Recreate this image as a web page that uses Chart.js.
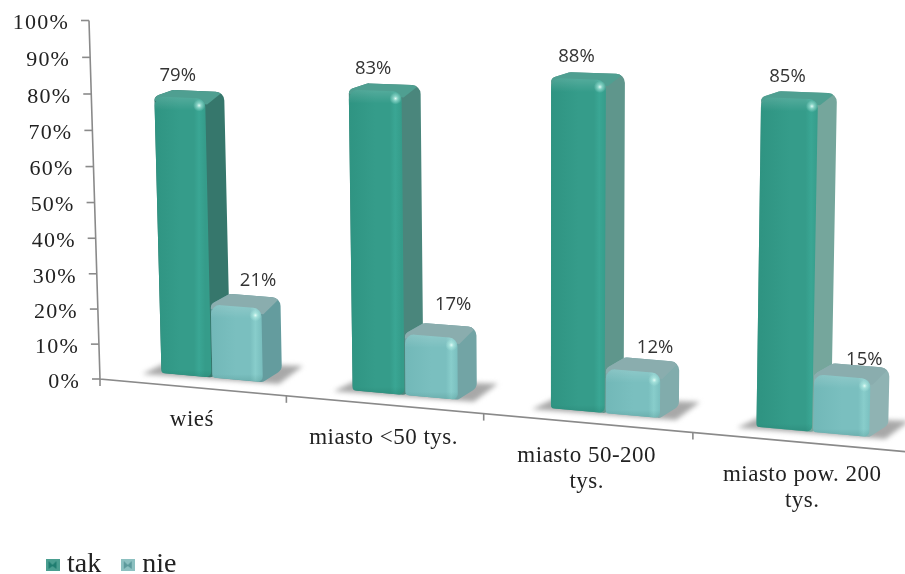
<!DOCTYPE html>
<html lang="pl">
<head>
<meta charset="utf-8">
<title>tak / nie</title>
<script src="https://cdn.jsdelivr.net/npm/chart.js@4"></script>
<style>
  html, body { margin: 0; padding: 0; background: #fff; }
  #wrap { width: 905px; height: 574px; }
</style>
</head>
<body>
<div id="wrap"><canvas id="wykres" width="905" height="574"></canvas></div>
<script>
const kategorie = ["wieś", "miasto <50 tys.", ["miasto 50-200", "tys."], ["miasto pow. 200", "tys."]];
const wartosciTak = [79, 83, 88, 85];
const wartosciNie = [21, 17, 12, 15];

const SERIF = '"Liberation Serif", serif';

// planes of the perspective view: corners top-left, top-right, bottom-right, bottom-left
const planSlupkow = [[108, 20], [929, 42], [919, 441.5], [118, 369]];
const planOsi = [[89, 20.5], [932, 40], [915, 452.5], [100, 379]];

// how far each "nie" value label sits above its bar
const uniesienieNie = [26, 31, 23, 17];

const kolory = {
  tak: { lewy: "#2f9482", srodek: "#359c8a", jasny: "#3aa694", gora: "#4f9f91", bok: ["#35776c", "#78a89f"] },
  nie: { lewy: "#72b8b8", srodek: "#7abfbf", jasny: "#88cdcb", gora: "#8aadae", bok: ["#5f9a9c", "#8fb3b3"] },
};

// square -> quad homography
function utworzRzut(q) {
  const [[x0, y0], [x1, y1], [x2, y2], [x3, y3]] = q;
  const dx1 = x1 - x2, dx2 = x3 - x2, sx = x0 - x1 + x2 - x3;
  const dy1 = y1 - y2, dy2 = y3 - y2, sy = y0 - y1 + y2 - y3;
  const det = dx1 * dy2 - dx2 * dy1;
  const g = (sx * dy2 - dx2 * sy) / det;
  const h = (dx1 * sy - sx * dy1) / det;
  const a = x1 - x0 + g * x1, b = x3 - x0 + h * x3;
  const d = y1 - y0 + g * y1, e = y3 - y0 + h * y3;
  return (u, v) => {
    const w = g * u + h * v + 1;
    return [(a * u + b * v + x0) / w, (d * u + e * v + y0) / w];
  };
}

function sciezka(ctx, pts, r) {
  const n = pts.length;
  const promien = (i) => (Array.isArray(r) ? r[i] : r);
  const p0 = pts[0], pn = pts[n - 1];
  ctx.beginPath();
  ctx.moveTo((p0[0] + pn[0]) / 2, (p0[1] + pn[1]) / 2);
  for (let i = 0; i < n; i++) {
    const p = pts[i], q = pts[(i + 1) % n];
    ctx.arcTo(p[0], p[1], q[0], q[1], promien(i));
  }
  ctx.closePath();
}

function mieszaj(k1, k2, t) {
  const rgb = (k) => [1, 3, 5].map((i) => parseInt(k.slice(i, i + 2), 16));
  const a = rgb(k1), b = rgb(k2);
  return "rgb(" + a.map((c, i) => Math.round(c + (b[i] - c) * t)).join(",") + ")";
}

function rysujSlupek(ctx, f, styl, wartosc) {
  const [tl, tr, br, bl] = f;
  const dx = 19, dyDol = -12;
  // tall bars are near eye level, so their top face looks thinner
  const dyGora = -(5 + (1 - wartosc / 100) * 7);
  const tlb = [tl[0] + dx, tl[1] + dyGora], trb = [tr[0] + dx, tr[1] + dyGora], brb = [br[0] + dx, br[1] + dyDol];
  const t = Math.min(1, Math.max(0, (tr[0] - 200) / 650));

  // side and top
  ctx.save();
  sciezka(ctx, [tl, tlb, trb, brb, br, bl], [6, 7, 9, 8, 6, 5]);
  ctx.fillStyle = mieszaj(styl.bok[0], styl.bok[1], t);
  ctx.fill();
  ctx.clip();
  ctx.beginPath();
  ctx.moveTo(tl[0] - 4, tl[1] + 4);
  ctx.lineTo(tlb[0] - 4, tlb[1] - 4);
  ctx.lineTo(trb[0] + 6, trb[1] - 6);
  ctx.lineTo(tr[0] + 2, tr[1] + 6);
  ctx.closePath();
  ctx.fillStyle = styl.gora;
  ctx.fill();
  ctx.restore();

  // front
  ctx.save();
  sciezka(ctx, f, [9, 9, 5, 3]);
  ctx.clip();
  const gr = ctx.createLinearGradient(tl[0], 0, tr[0], 0);
  gr.addColorStop(0, styl.lewy);
  gr.addColorStop(0.5, styl.srodek);
  gr.addColorStop(0.78, styl.srodek);
  gr.addColorStop(0.88, styl.jasny);
  gr.addColorStop(1, styl.srodek);
  ctx.fillStyle = gr;
  ctx.fillRect(Math.min(tl[0], bl[0]) - 2, Math.min(tl[1], tr[1]) - 2, Math.max(tr[0], br[0]) - Math.min(tl[0], bl[0]) + 4, Math.max(bl[1], br[1]) - Math.min(tl[1], tr[1]) + 4);
  const gg = ctx.createLinearGradient(0, tl[1], 0, tl[1] + 14);
  gg.addColorStop(0, "rgba(255,255,255,0.16)");
  gg.addColorStop(1, "rgba(255,255,255,0)");
  ctx.fillStyle = gg;
  ctx.fillRect(tl[0] - 8, tl[1] - 8, tr[0] - tl[0] + 16, 24);
  const gd = ctx.createLinearGradient(0, br[1] - 8, 0, br[1] + 2);
  gd.addColorStop(0, "rgba(0,60,50,0)");
  gd.addColorStop(1, "rgba(0,60,50,0.16)");
  ctx.fillStyle = gd;
  ctx.fillRect(bl[0] - 4, bl[1] - 12, br[0] - bl[0] + 8, 24);
  ctx.restore();

  // glint at the upper right corner
  const bx = tr[0] - 6, by = tr[1] + 7;
  const rg = ctx.createRadialGradient(bx, by, 0, bx, by, 6);
  rg.addColorStop(0, "rgba(235,255,250,0.95)");
  rg.addColorStop(0.4, "rgba(190,245,235,0.5)");
  rg.addColorStop(1, "rgba(190,245,235,0)");
  ctx.fillStyle = rg;
  ctx.fillRect(bx - 7, by - 7, 14, 14);
}

const perspektywa = {
  id: "perspektywa",
  beforeDatasetDraw() {
    return false; // the bars are painted together in afterDatasetsDraw
  },
  afterDatasetsDraw(chart) {
    const { ctx, chartArea: a, scales } = chart;
    // k evens out the category spacing along the floor
    const rzutPx = (rzut, k) => (x, y) => {
      const u = (x - a.left) / (a.right - a.left);
      return rzut(u + k * u * (1 - u), (y - a.top) / (a.bottom - a.top));
    };
    const front = rzutPx(utworzRzut(planSlupkow), 0.065);
    const os = rzutPx(utworzRzut(planOsi), 0.025);
    const yS = scales.y, xS = scales.x;

    ctx.save();

    // y axis
    const dol = yS.getPixelForValue(0);
    const gora = yS.getPixelForValue(100);
    ctx.strokeStyle = "#8a8a8a";
    ctx.lineWidth = 1.6;
    ctx.beginPath();
    ctx.moveTo(...os(a.left, gora));
    ctx.lineTo(...os(a.left, dol));
    ctx.lineTo(...os(a.right, dol));
    ctx.stroke();
    ctx.fillStyle = "#222";
    ctx.textAlign = "right";
    ctx.textBaseline = "middle";
    ctx.font = "22px " + SERIF;
    ctx.letterSpacing = "1.2px";
    yS.ticks.forEach((tick) => {
      const [px, py] = os(a.left, yS.getPixelForValue(tick.value));
      ctx.beginPath();
      ctx.moveTo(px - 8, py);
      ctx.lineTo(px, py);
      ctx.stroke();
      ctx.fillText(tick.label, px - 20, py + 3);
    });

    // x axis ticks and category names
    const szer = (a.right - a.left) / kategorie.length;
    ctx.textAlign = "center";
    ctx.font = "23px " + SERIF;
    ctx.letterSpacing = "0.5px";
    for (let i = 0; i <= kategorie.length; i++) {
      const [px, py] = os(a.left + i * szer, dol);
      ctx.beginPath();
      ctx.moveTo(px, py);
      ctx.lineTo(px, py + 7);
      ctx.stroke();
    }
    kategorie.forEach((nazwa, i) => {
      const [px, py] = os(xS.getPixelForValue(i), dol);
      [].concat(nazwa).forEach((linia, j) => ctx.fillText(linia, px, py + 33 + j * 26));
    });
    ctx.letterSpacing = "0px";

    const metaTak = chart.getDatasetMeta(0), metaNie = chart.getDatasetMeta(1);
    const naroza = (el) => {
      const x0 = el.x - el.width / 2, x1 = el.x + el.width / 2;
      return [front(x0, el.y), front(x1, el.y), front(x1, el.base), front(x0, el.base)];
    };

    kategorie.forEach((_, i) => {
      const fT = naroza(metaTak.data[i]), fN = naroza(metaNie.data[i]);

      // soft floor shadow under the pair of bars
      const lewy = fT[3], prawy = fN[2];
      ctx.save();
      ctx.filter = "blur(2.5px)";
      ctx.fillStyle = "#a8a8a8";
      ctx.beginPath();
      ctx.moveTo(lewy[0] - 19, lewy[1] + 1);
      ctx.lineTo(lewy[0] + 6, lewy[1] - 11);
      ctx.lineTo(prawy[0] + 40, prawy[1] - 16);
      ctx.lineTo(prawy[0] + 16, prawy[1] + 2);
      ctx.closePath();
      ctx.fill();
      ctx.restore();

      rysujSlupek(ctx, fT, kolory.tak, wartosciTak[i]);
      rysujSlupek(ctx, fN, kolory.nie, wartosciNie[i]);

      // value labels
      ctx.font = '18.5px "Open Sans", sans-serif';
      ctx.fillStyle = "#333";
      ctx.textAlign = "center";
      ctx.textBaseline = "middle";
      const sT = [(fT[0][0] + fT[1][0]) / 2, (fT[0][1] + fT[1][1]) / 2];
      const sN = [(fN[0][0] + fN[1][0]) / 2, (fN[0][1] + fN[1][1]) / 2];
      ctx.fillText(wartosciTak[i] + "%", sT[0] - 2, sT[1] - 22);
      ctx.fillText(wartosciNie[i] + "%", sN[0] + 22, sN[1] - uniesienieNie[i]);
    });
    ctx.restore();
  },
};

function ikonaLegendy(kolor, ciemny) {
  const c = document.createElement("canvas");
  c.width = 14;
  c.height = 12;
  const g = c.getContext("2d");
  g.fillStyle = kolor;
  g.fillRect(0, 0, 14, 12);
  g.fillStyle = ciemny;
  g.beginPath();
  g.moveTo(3, 2);
  g.lineTo(7, 6);
  g.lineTo(11, 2);
  g.lineTo(11, 10);
  g.lineTo(7, 7);
  g.lineTo(3, 10);
  g.closePath();
  g.fill();
  return c;
}

const ikony = [ikonaLegendy("#4a9e90", "#1f7d70"), ikonaLegendy("#8cc0c0", "#5d9a9c")];

new Chart(document.getElementById("wykres"), {
  type: "bar",
  data: {
    labels: kategorie,
    datasets: [
      { label: "tak", data: wartosciTak, backgroundColor: "#359c8a" },
      { label: "nie", data: wartosciNie, backgroundColor: "#7abfbf" },
    ],
  },
  options: {
    responsive: false,
    animation: false,
    categoryPercentage: 0.54,
    barPercentage: 0.98,
    layout: { padding: { left: 26, bottom: -15 } },
    scales: {
      x: { display: false },
      y: {
        display: false,
        min: 0,
        max: 100,
        ticks: { stepSize: 10, callback: (v) => v + "%" },
      },
    },
    plugins: {
      tooltip: { enabled: false },
      legend: {
        position: "bottom",
        align: "start",
        labels: {
          usePointStyle: true,
          pointStyleWidth: 1,
          boxHeight: 12,
          padding: 26,
          color: "#222",
          font: { family: SERIF, size: 28 },
          generateLabels: (chart) =>
            chart.data.datasets.map((ds, i) => ({
              text: ds.label,
              pointStyle: ikony[i],
              datasetIndex: i,
              fontColor: "#222",
              lineWidth: 0,
            })),
        },
      },
    },
  },
  plugins: [perspektywa],
});
</script>
</body>
</html>
